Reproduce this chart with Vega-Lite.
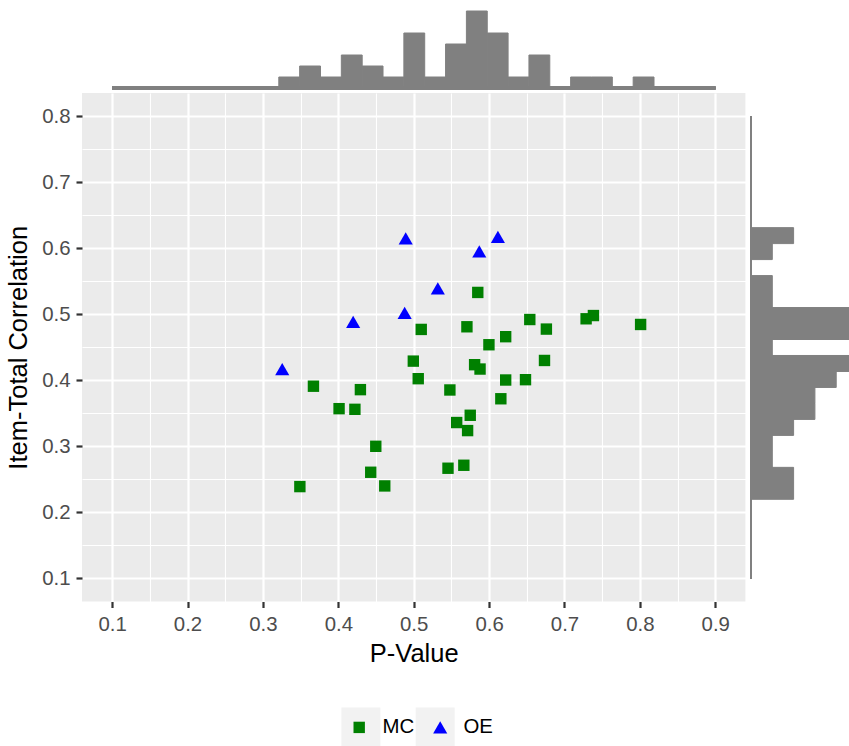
{
  "$schema": "https://vega.github.io/schema/vega-lite/v6.json",
  "autosize": {"type": "pad"},
  "padding": {"left": 6, "top": 10, "right": 0, "bottom": 0},
  "config": {
    "font": "Liberation Sans",
    "view": {"stroke": null},
    "axis": {
      "domain": false,
      "labelFontSize": 20.4,
      "labelColor": "#4D4D4D",
      "labelFont": "Liberation Sans",
      "titleFont": "Liberation Sans",
      "titleFontSize": 25.5,
      "titleColor": "#000000",
      "titleFontWeight": "normal",
      "gridColor": "#FFFFFF",
      "tickColor": "#333333",
      "tickSize": 6,
      "tickWidth": 2.2,
      "labelOverlap": false,
      "labelFlush": false
    }
  },
  "datasets": {
    "items": [
      {"pv": 0.4894, "itc": 0.615, "type": "OE"},
      {"pv": 0.6117, "itc": 0.617, "type": "OE"},
      {"pv": 0.587, "itc": 0.595, "type": "OE"},
      {"pv": 0.532, "itc": 0.539, "type": "OE"},
      {"pv": 0.488, "itc": 0.502, "type": "OE"},
      {"pv": 0.4197, "itc": 0.4886, "type": "OE"},
      {"pv": 0.3256, "itc": 0.417, "type": "OE"},
      {"pv": 0.585, "itc": 0.533, "type": "MC"},
      {"pv": 0.51, "itc": 0.477, "type": "MC"},
      {"pv": 0.5706, "itc": 0.481, "type": "MC"},
      {"pv": 0.654, "itc": 0.492, "type": "MC"},
      {"pv": 0.676, "itc": 0.4775, "type": "MC"},
      {"pv": 0.622, "itc": 0.466, "type": "MC"},
      {"pv": 0.5998, "itc": 0.4538, "type": "MC"},
      {"pv": 0.4995, "itc": 0.429, "type": "MC"},
      {"pv": 0.6735, "itc": 0.43, "type": "MC"},
      {"pv": 0.5808, "itc": 0.4236, "type": "MC"},
      {"pv": 0.588, "itc": 0.417, "type": "MC"},
      {"pv": 0.506, "itc": 0.4024, "type": "MC"},
      {"pv": 0.622, "itc": 0.4004, "type": "MC"},
      {"pv": 0.6483, "itc": 0.4009, "type": "MC"},
      {"pv": 0.367, "itc": 0.391, "type": "MC"},
      {"pv": 0.4293, "itc": 0.3858, "type": "MC"},
      {"pv": 0.548, "itc": 0.3853, "type": "MC"},
      {"pv": 0.6156, "itc": 0.372, "type": "MC"},
      {"pv": 0.401, "itc": 0.357, "type": "MC"},
      {"pv": 0.422, "itc": 0.356, "type": "MC"},
      {"pv": 0.575, "itc": 0.347, "type": "MC"},
      {"pv": 0.557, "itc": 0.336, "type": "MC"},
      {"pv": 0.5715, "itc": 0.3238, "type": "MC"},
      {"pv": 0.4497, "itc": 0.3, "type": "MC"},
      {"pv": 0.443, "itc": 0.2607, "type": "MC"},
      {"pv": 0.4616, "itc": 0.24, "type": "MC"},
      {"pv": 0.349, "itc": 0.239, "type": "MC"},
      {"pv": 0.5455, "itc": 0.2668, "type": "MC"},
      {"pv": 0.5665, "itc": 0.2713, "type": "MC"},
      {"pv": 0.7287, "itc": 0.4931, "type": "MC"},
      {"pv": 0.7384, "itc": 0.498, "type": "MC"},
      {"pv": 0.801, "itc": 0.4845, "type": "MC"}
    ]
  },
  "bounds": "flush",
  "spacing": 5,
  "resolve": {"scale": {"x": "independent", "y": "independent"}},
  "vconcat": [
    {
      "width": 663.4,
      "height": 77,
      "data": {"name": "items"},
      "layer": [
        {
          "mark": {"type": "bar", "binSpacing": 0, "fill": "#808080", "stroke": "#808080", "strokeWidth": 1},
          "encoding": {
            "x": {"field": "pv", "type": "quantitative", "bin": {"extent": [0.3204, 0.818], "step": 0.02765, "nice": false}, "scale": {"domain": [0.06, 0.94], "nice": false, "zero": false}, "axis": null},
            "y": {"aggregate": "count", "type": "quantitative", "scale": {"domain": [0, 7], "nice": false}, "axis": null}
          }
        },
        {
          "mark": {"type": "rule", "color": "#808080", "strokeWidth": 2.5},
          "encoding": {"x": {"datum": 0.1}, "x2": {"datum": 0.9}, "y": {"datum": 0}}
        }
      ]
    },
    {
      "bounds": "flush",
      "spacing": 5,
      "resolve": {"scale": {"x": "independent", "y": "independent"}},
      "hconcat": [
        {
          "width": 663.4,
          "height": 508.5,
          "view": {"fill": "#EBEBEB", "stroke": null},
          "data": {"name": "items"},
          "layer": [
            {
              "transform": [{"filter": "datum.pv > 5"}],
              "mark": {"type": "square", "size": 1521},
              "encoding": {
                "color": {"field": "type", "type": "nominal",
                  "scale": {"domain": ["k1", "k2"], "range": ["#F2F2F2", "#F2F2F2"]},
                  "legend": {"orient": "none", "legendX": 259.4, "legendY": 696.4, "direction": "horizontal", "title": null,
                    "symbolType": "square", "symbolSize": 1521, "symbolStrokeWidth": 0, "symbolOpacity": 1,
                    "labelExpr": "''", "labelOffset": 0, "columnPadding": 35.3, "padding": 0}}
              }
            },
            {
              "mark": {"type": "point", "filled": true, "opacity": 1, "strokeWidth": 0},
              "encoding": {
                "x": {"field": "pv", "type": "quantitative", "title": "P-Value",
                  "scale": {"domain": [0.06, 0.94], "nice": false, "zero": false},
                  "axis": {
                    "values": [0.1, 0.15, 0.2, 0.25, 0.3, 0.35, 0.4, 0.45, 0.5, 0.55, 0.6, 0.65, 0.7, 0.75, 0.8, 0.85, 0.9],
                    "grid": true,
                    "gridWidth": {"condition": {"test": "round(datum.value*100) % 10 == 0", "value": 2.2}, "value": 1.1},
                    "tickOpacity": {"condition": {"test": "round(datum.value*100) % 10 == 0", "value": 1}, "value": 0},
                    "labelExpr": "round(datum.value*100) % 10 == 0 ? format(datum.value, '.1f') : ''",
                    "labelPadding": 6.5,
                    "titlePadding": 7
                  }
                },
                "y": {"field": "itc", "type": "quantitative", "title": "Item-Total Correlation",
                  "scale": {"domain": [0.065, 0.835], "nice": false, "zero": false},
                  "axis": {
                    "values": [0.1, 0.15, 0.2, 0.25, 0.3, 0.35, 0.4, 0.45, 0.5, 0.55, 0.6, 0.65, 0.7, 0.75, 0.8],
                    "grid": true,
                    "gridWidth": {"condition": {"test": "round(datum.value*100) % 10 == 0", "value": 2.2}, "value": 1.1},
                    "tickOpacity": {"condition": {"test": "round(datum.value*100) % 10 == 0", "value": 1}, "value": 0},
                    "labelExpr": "round(datum.value*100) % 10 == 0 ? format(datum.value, '.1f') : ''",
                    "labelPadding": 6,
                    "titlePadding": 10
                  }
                },
                "fill": {"field": "type", "type": "nominal",
                  "scale": {"domain": ["MC", "OE"], "range": ["#008000", "#0000FF"]},
                  "legend": {"orient": "none", "legendX": 267, "legendY": 706, "direction": "horizontal", "title": null,
                    "labelFontSize": 20.4, "labelColor": "#000000", "labelFont": "Liberation Sans",
                    "labelOffset": 13, "columnPadding": 15, "padding": 0, "symbolStrokeWidth": 0, "symbolOpacity": 1}
                },
                "shape": {"field": "type", "type": "nominal",
                  "scale": {"domain": ["MC", "OE"], "range": ["square", "triangle-up"]}},
                "size": {"field": "type", "type": "nominal",
                  "scale": {"domain": ["MC", "OE"], "range": [130, 200]}}
              }
            }
          ]
        },
        {
          "width": 98,
          "height": 508.5,
          "data": {"name": "items"},
          "layer": [
            {
              "mark": {"type": "bar", "orient": "horizontal", "binSpacing": 0, "fill": "#808080", "stroke": "#808080", "strokeWidth": 1, "clip": true},
              "encoding": {
                "y": {"field": "itc", "type": "quantitative", "bin": {"extent": [0.2205, 0.6319], "step": 0.0242, "nice": false}, "scale": {"domain": [0.065, 0.835], "nice": false, "zero": false}, "axis": null},
                "x": {"aggregate": "count", "type": "quantitative", "scale": {"domain": [0, 4.6], "nice": false}, "axis": null}
              }
            },
            {
              "mark": {"type": "rule", "color": "#808080", "strokeWidth": 2},
              "encoding": {"y": {"datum": 0.1}, "y2": {"datum": 0.8}, "x": {"datum": 0}}
            }
          ]
        }
      ]
    }
  ]
}
